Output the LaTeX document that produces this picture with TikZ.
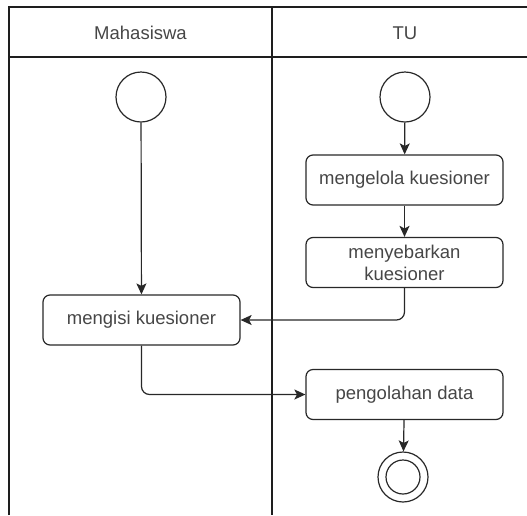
\documentclass[tikz,border=0pt]{standalone}
\usepackage{fontspec}
\setmainfont{Liberation Sans}
\usetikzlibrary{arrows.meta,positioning}
\definecolor{laneDark}{RGB}{30,30,30}
\definecolor{flowGray}{RGB}{40,40,40}
\definecolor{textGray}{RGB}{70,70,70}

\begin{document}
\begin{tikzpicture}[x=1pt, y=-1pt,
    act/.style={draw=flowGray, line width=1.2pt, rounded corners=7pt,
      minimum width=197pt, minimum height=50pt, align=center,
      font=\fontsize{18.5}{22}\selectfont, text=textGray},
    startdot/.style={circle, draw=flowGray, line width=1.2pt, minimum size=50pt},
    flow/.style={draw=flowGray, line width=1.2pt, rounded corners=8pt,
      -{Stealth[length=11pt, width=10pt, inset=2.5pt]}},
    lane/.style={draw=laneDark, line width=1.5pt},
    lanetitle/.style={font=\fontsize{18.5}{20}\selectfont, text=textGray}]
    \useasboundingbox (0,0) rectangle (527,515);
    % Swimlanes with header row
    \draw[lane] (9,515) -- (9,7) -- (527,7);
    \draw[lane] (9,57) -- (527,57);
    \draw[lane] (272,7) -- (272,515);
    \node[lanetitle] (hMhs) at (140.5,33) {Mahasiswa};
    \node[lanetitle] (hTU)  at (405,33) {TU};
    % Start points
    \node[startdot] (startMhs) at (141,97) {};
    \node[startdot] (startTU)  at (405,97) {};
    % Activities
    \node[act] (kelola) at (404.5,180) {mengelola kuesioner};
    \node[act] (sebar)  at (404.5,262.5) {menyebarkan\\kuesioner};
    \node[act] (isi)    at (141.5,320) {mengisi kuesioner};
    \node[act] (olah)   at (404.5,394.5) {pengolahan data};
    % End point
    \node[startdot] (selesai) at (403,477) {};
    \draw[flowGray, line width=1.2pt] (selesai) circle (17pt);
    % Control flow
    \draw[flow] (startMhs) -- (isi);
    \draw[flow] (startTU) -- (kelola);
    \draw[flow] (kelola) -- (sebar);
    \draw[flow] (sebar.south) |- (isi.east);
    \draw[flow] (isi.south) |- (olah.west);
    \draw[flow] (olah) -- (selesai);
  \end{tikzpicture}
\end{document}
